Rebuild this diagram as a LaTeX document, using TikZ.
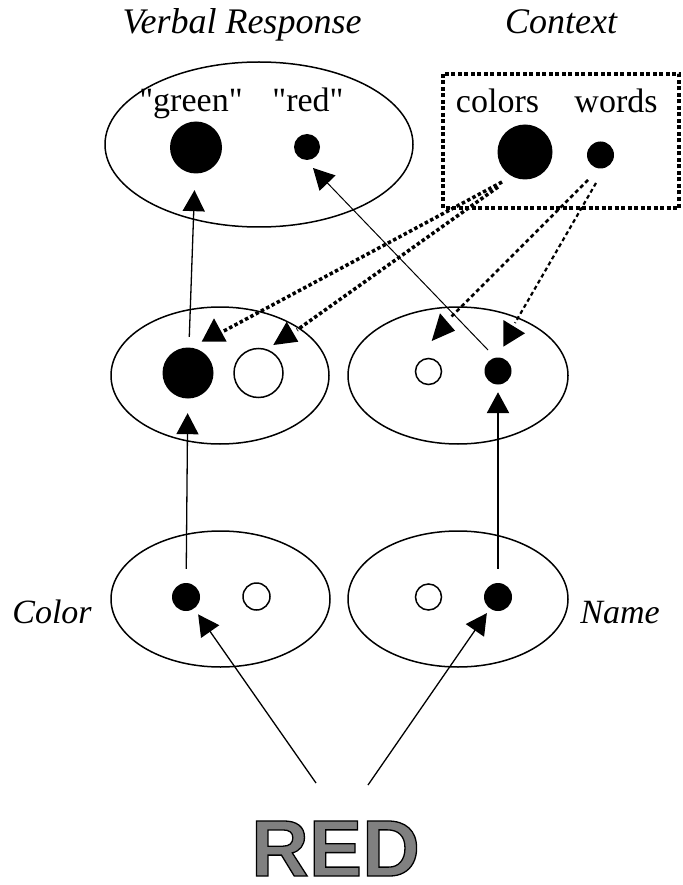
\documentclass[tikz,border=0pt]{standalone}
\usepackage{fontspec}
\setmainfont{Liberation Serif}
\newfontfamily\qfont{Liberation Serif}
\newfontfamily\redfont{Liberation Sans}
\usetikzlibrary{shapes.geometric,arrows.meta}
\begin{document}
\begin{tikzpicture}[x=1pt,y=-1pt,
  txt/.style={font=\fontsize{34}{40}\selectfont, anchor=base, inner sep=0pt},
  oval/.style={ellipse, draw, line width=1.5pt, inner sep=0pt},
  fdot/.style={circle, fill=black, inner sep=0pt},
  odot/.style={circle, draw, line width=1.5pt, inner sep=0pt},
  arr/.style={-{Triangle[length=21pt,width=22pt]}, line width=1.3pt},
  cline/.style={line width=3.5pt, dash pattern=on 3.5pt off 2.5pt},
  wline/.style={line width=2.5pt, dash pattern=on 4pt off 3pt},
  head/.style={fill=black}]
\useasboundingbox (0,0) rectangle (682,885);

% titles
\node[txt, font=\fontsize{36}{42}\selectfont] (tVR) at (242,34) {\itshape Verbal Response};
\node[txt, font=\fontsize{36}{42}\selectfont] (tCx) at (561,34) {\itshape Context};

% verbal response
\node[oval, minimum width=308pt, minimum height=165pt] (eV) at (259,144.5) {};
\node[txt] (lG) at (191,112) {\qfont "green"};
\node[txt] (lR) at (308,112) {\qfont "red"};
\node[fdot, minimum size=52pt] (vG) at (196,147.5) {};
\node[fdot, minimum size=26pt] (vR) at (307,147) {};

% context
\draw[line width=4pt, dash pattern=on 4pt off 2.5pt] (443,74) rectangle (679,208);
\node[txt] (lC) at (497.5,113) {colors};
\node[txt] (lW) at (616,113) {words};
\node[fdot, minimum size=55pt] (cC) at (525,152) {};
\node[fdot, minimum size=27pt] (cW) at (600.5,155) {};

% middle layer
\node[oval, minimum width=218pt, minimum height=137pt] (eML) at (220,375.5) {};
\node[oval, minimum width=220pt, minimum height=137pt] (eMR) at (458,375.5) {};
\node[fdot, minimum size=51pt] (mLf) at (188,373) {};
\node[odot, minimum size=49pt] (mLo) at (258.5,373) {};
\node[odot, minimum size=26pt] (mRo) at (428.5,371.5) {};
\node[fdot, minimum size=27pt] (mRf) at (498,371) {};

% bottom layer
\node[oval, minimum width=219pt, minimum height=136pt] (eBL) at (220.5,599) {};
\node[oval, minimum width=220pt, minimum height=136pt] (eBR) at (458,599) {};
\node[fdot, minimum size=28pt] (bLf) at (186,597) {};
\node[odot, minimum size=27pt] (bLo) at (256.5,596.5) {};
\node[odot, minimum size=26pt] (bRo) at (428.5,597) {};
\node[fdot, minimum size=28pt] (bRf) at (498,597) {};
\node[txt] (lCo) at (52,623) {\itshape Color};
\node[txt] (lNa) at (620,623) {\itshape Name};

% RED stimulus
\node[anchor=base, inner sep=0pt, font=\redfont\bfseries\fontsize{80}{88}\selectfont] (red) at (335.5,876)
  {\color[gray]{0.5}\special{pdf:literal direct 2 Tr 1.3 w 0 G}RED\special{pdf:literal direct 0 Tr}};
\coordinate (sRL) at (316,783);
\coordinate (sRR) at (368,785);

% solid connectors
\draw[arr, shorten <=10.5pt, shorten >=16.5pt] (mLf) -- (vG);
\draw[arr, shorten <=14pt, shorten >=14.5pt] (bLf) -- (mLf);
\draw[arr, line width=2.6pt, shorten <=14pt, shorten >=7.5pt] (bRf) -- (mRf);
\coordinate (s4) at (488,350);
\coordinate (t4) at (313,168);
\draw[arr, line width=1pt] (s4) -- (t4);
\draw[arr, shorten >=7pt] (sRL) -- (bLf);
\draw[arr, shorten >=5.4pt] (sRR) -- (bRf);

% context connectors
\coordinate (s1) at (502,182);
\coordinate (s2) at (498,187);
\coordinate (s3) at (588,180);
\coordinate (s5) at (596,183);
\coordinate (e1) at (222,332);
\coordinate (e2) at (297,330);
\coordinate (e3) at (450,318);
\coordinate (e5) at (515,323);
\draw[cline] (s1) -- (e1);
\draw[cline] (s2) -- (e2);
\draw[wline] (s3) -- (e3);
\draw[wline, line width=2.2pt] (s5) -- (e5);
\fill[head] (214,318.3) -- (201.7,341.7) -- (226.7,341.7) -- cycle;
\fill[head] (286.7,321.7) -- (273.3,345) -- (298.3,341.7) -- cycle;
\fill[head] (440,313.3) -- (431.7,341) -- (455,330.7) -- cycle;
\fill[head] (503.3,320) -- (503.3,346.7) -- (525,333.3) -- cycle;
\end{tikzpicture}
\end{document}
